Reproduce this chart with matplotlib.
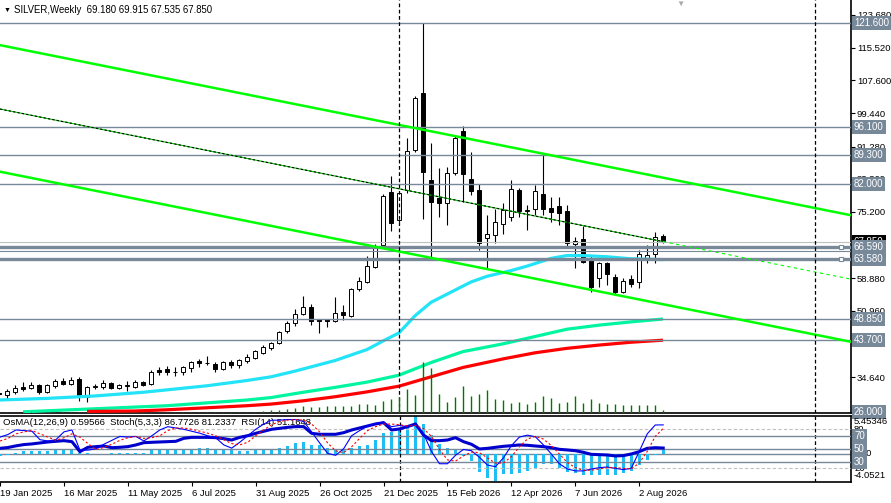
import numpy as np
import pandas as pd
import matplotlib
matplotlib.use("Agg")
import matplotlib.pyplot as plt
import matplotlib.transforms as mtransforms

plt.rcParams['font.family'] = ['Liberation Sans', 'DejaVu Sans']

# weekly bars, first one is 19 Jan 2025
weeks = pd.date_range("2025-01-19", periods=84, freq="7D")
bars = np.arange(-1, 83)

opens = [30.7, 30.3, 31.0, 32.2, 32.0, 32.6, 30.9, 32.4, 33.7, 32.9, 34.1, 29.7, 32.1, 32.3, 33.1, 31.9,
         32.5, 32.1, 33.4, 32.9, 36.3, 36.6, 35.9, 35.8, 36.8, 38.6, 38.2, 37.9, 36.6, 38.4, 37.6, 38.6,
         39.4, 40.6, 41.7, 42.9, 46.0, 47.9, 50.1, 51.9, 48.8, 48.8, 48.3, 50.6, 49.7, 56.2, 58.1, 61.8,
         67.1, 80.0, 73.2, 80.6, 90.4, 104.5, 83.1, 78.6, 77.3, 84.7, 95.2, 83.3, 80.6, 68.7, 69.5, 72.2,
         74.0, 80.6, 75.5, 75.9, 79.6, 76.3, 76.7, 75.4, 67.4, 68.6, 63.4, 58.9, 62.6, 59.2, 55.6, 58.7,
         57.9, 64.0, 64.8, 69.18]
highs = [30.9, 31.7, 32.6, 33.5, 33.5, 33.0, 32.9, 34.1, 34.3, 34.6, 34.6, 32.4, 33.0, 34.0, 33.5, 33.0,
         33.6, 34.0, 33.6, 36.3, 37.0, 37.4, 37.1, 37.4, 38.6, 39.2, 39.7, 38.3, 38.5, 38.8, 39.2, 40.2,
         41.3, 42.6, 43.3, 46.0, 48.5, 51.3, 54.6, 52.7, 49.0, 49.0, 54.4, 52.4, 56.6, 59.2, 64.4, 67.3,
         79.6, 84.0, 80.2, 93.5, 103.6, 121.6, 92.1, 86.1, 86.3, 94.0, 96.3, 90.0, 82.2, 74.5, 75.9, 77.5,
         83.1, 81.0, 76.9, 81.8, 89.6, 79.0, 79.0, 76.9, 69.1, 71.8, 64.5, 63.0, 63.0, 60.0, 59.0, 59.6,
         65.9, 67.1, 70.2, 69.915]
lows = [30.2, 29.3, 30.6, 31.1, 31.8, 30.5, 30.7, 31.9, 32.6, 32.6, 28.8, 28.6, 31.6, 31.8, 31.6, 31.7,
        31.2, 31.9, 32.5, 32.7, 35.2, 35.1, 34.8, 35.1, 36.0, 37.1, 37.7, 36.0, 36.3, 36.8, 36.8, 38.0,
        39.2, 40.2, 41.2, 42.7, 45.5, 47.2, 50.0, 47.4, 45.4, 47.0, 48.1, 48.7, 49.5, 55.8, 57.8, 61.4,
        66.8, 70.5, 72.8, 79.8, 89.9, 73.6, 63.8, 74.0, 72.0, 84.3, 77.7, 79.4, 65.9, 61.4, 67.5, 69.7,
        73.0, 74.0, 70.8, 74.5, 74.5, 72.8, 72.0, 66.3, 61.4, 62.6, 55.6, 56.8, 57.3, 55.0, 55.2, 56.7,
        56.5, 62.6, 62.6, 67.535]
closes = [30.4, 31.3, 32.0, 31.8, 32.6, 30.9, 32.6, 33.7, 32.9, 33.9, 30.2, 32.1, 32.5, 33.2, 31.9, 32.7,
          32.6, 33.5, 32.8, 35.8, 35.9, 35.8, 36.0, 37.0, 38.3, 38.0, 38.1, 36.6, 38.3, 37.6, 38.8, 39.6,
          41.1, 42.1, 42.9, 45.8, 48.0, 50.1, 51.9, 48.5, 48.4, 48.4, 50.3, 49.8, 56.2, 58.2, 61.9, 66.7,
          79.2, 72.6, 79.8, 90.2, 103.3, 85.1, 77.7, 77.3, 84.7, 93.5, 84.5, 80.4, 67.7, 69.7, 72.8, 75.7,
          80.9, 75.5, 75.8, 80.4, 75.9, 75.3, 75.0, 67.5, 68.1, 63.0, 56.8, 62.6, 59.9, 55.6, 58.2, 57.4,
          65.0, 64.6, 69.1, 67.85]
volumes = [50, 60, 50, 70, 60, 50, 60, 80, 60, 90, 70, 60, 50, 60, 50, 60, 70, 60, 80, 70, 60, 70, 80, 90,
           150, 150, 100, 150, 100, 150, 100, 150, 150, 200, 270,
           300, 370, 500, 700, 600, 600, 700, 700, 700, 700, 870, 870, 800, 1200, 1400, 1600,
           2370, 1770, 5100, 4500, 1870, 1100, 1600, 2670, 1670, 1870, 2270, 1370, 1270, 1000, 1070, 870,
           1070, 1670, 1500, 1000, 1070, 1670, 1000, 1370, 1000, 870, 870, 770, 770, 770, 770, 770, 270]

# moving averages (bar, price)
ma_fast_bars = [-1, 5, 11, 17, 20, 25, 30, 33, 36, 41, 45, 47, 49, 51, 53, 56, 58, 60, 63, 65, 68, 70, 72, 75, 78, 82]
ma_fast_vals = [29.0, 29.4, 30.0, 30.9, 31.5, 32.5, 33.8, 34.7, 36.1, 38.7, 41.4, 43.5, 45.5, 49.7, 53.0, 56.0,
                58.0, 59.4, 60.8, 61.9, 63.8, 64.5, 64.5, 64.2, 63.7, 63.5]
ma_mid_bars = [2, 8, 14, 20, 25, 30, 33, 37, 41, 45, 49, 53, 57, 62, 66, 70, 74, 78, 82]
ma_mid_vals = [26.1, 26.6, 27.1, 27.6, 28.3, 29.0, 29.6, 30.9, 32.1, 33.4, 35.1, 38.2, 40.9, 42.8, 44.6, 46.4,
               47.4, 48.2, 48.9]
ma_slow_bars = [10, 16, 20, 25, 30, 33, 37, 41, 45, 49, 53, 57, 62, 66, 70, 74, 78, 82]
ma_slow_vals = [26.2, 26.3, 26.6, 27.1, 27.6, 28.0, 28.8, 29.8, 31.0, 32.4, 34.7, 37.0, 39.1, 40.6, 41.7, 42.5,
                43.2, 43.7]

# regression channel: price at first and last visible bar position
chan_bars = [-0.875, 105.5]
chan_upper = [116.2, 74.4]
chan_mid = [100.5, 58.7]
chan_lower = [85.1, 43.3]
last_bar = 82

levels = [121.6, 96.1, 89.3, 82.0, 66.59, 63.58, 48.85, 43.7]
thick_levels = [66.59, 63.58]
extra_level = 65.5
bid = 67.85
price_ticks = [123.68, 115.52, 107.6, 99.44, 91.28, 83.36, 75.2, 67.04, 58.88, 50.96, 42.8, 34.64]

osma = [-0.3, -0.25, 0.15, 0.34, 0.39, 0.34, 0.34, 0.49, 0.49, 0.49,
        0.1, 0.05, -0.05, 0.0, 0.05, 0.08, 0.1, 0.1, 0.12,
        0.58, 0.63, 0.63, 0.63, 0.63, 0.73, 0.83, 0.83, 0.49, 0.49, 0.49, 0.34, 0.39, 0.58, 0.58, 0.58,
        0.83, 1.07, 1.56, 1.71, 1.32, 1.22, 0.83, 0.73, 0.63, 0.83, 1.07, 1.32, 1.95, 3.07, 3.17, 3.66,
        4.0, 5.45346, 4.29, 2.68, 1.37, 0.83,
        0.7, -0.4, -1.07, -2.68, -3.6, -4.0521, -3.0, -3.0, -2.8, -2.5, -2.05, -1.56, -1.56, -2.05, -2.7,
        -2.8, -3.17, -3.17, -3.17, -3.17, -3.17, -2.9, -2.5, -1.7, -0.97, -0.2, 0.59566]
stoch_main = [68, 72, 79, 78, 77, 64, 62, 64, 76, 79, 48, 48, 50, 57, 63, 69, 68, 69, 62, 70, 79, 84, 82, 80,
              77, 74, 70, 67, 56, 51, 60, 70, 80, 88, 94, 94, 95, 95, 92, 76, 59, 43, 40, 50, 70, 78, 85, 89,
              91, 84, 86, 84, 87, 73, 46, 27, 27, 40, 49, 47, 37, 25, 22.5, 36, 55, 68, 71, 68.5, 56, 42, 27,
              19, 16, 16, 19, 21, 22, 20, 18, 20, 46, 73, 86.6, 86.7726]
stoch_signal = [62, 66, 73, 76, 78, 73, 68, 63, 67, 73, 68, 58, 49, 52, 57, 63, 67, 69, 66, 67, 70, 78, 82, 82,
                80, 77, 74, 70, 64, 58, 56, 60, 70, 79, 87, 92, 94, 95, 94, 88, 76, 59, 47, 44, 53, 66, 78, 84,
                88, 88, 87, 85, 86, 81, 69, 49, 33, 31, 39, 45, 44, 36, 28, 28, 38, 53, 65, 69, 65, 55, 42, 29,
                21, 17, 17, 19, 21, 21, 20, 19, 28, 46, 69, 81.2337]
rsi = [50.7, 52, 54.5, 56.5, 57.5, 59, 60.5, 61.5, 62.5, 61, 45.6, 52.3, 53.3, 54.3, 51.7, 52.3, 53.3, 55.9,
       59.4, 60, 60.5, 61, 61.5, 66.1, 67.6, 67.6, 67.6, 67.1, 65.6, 63.5, 67.6, 70.2, 73.8, 76.9, 80, 81.5,
       83, 84.1, 84.1, 73.8, 72.3, 72.3, 72.3, 74.8, 78.9, 82, 85.1, 88.2, 90.2, 78.9, 80.5, 84.1, 88.2, 71.2,
       62.5, 62.5, 63.5, 67.1, 61, 56.9, 49.7, 50.7, 52.3, 53.8, 54.8, 55.9, 55.4, 54.3, 53.3, 51.7, 49.2,
       48.2, 47.1, 44.6, 41.5, 41, 40.5, 39, 39.5, 42, 45.6, 50.7, 51.7, 51.1648]

GRAY = '#778899'
FS_TICK = 6.8
FS_BOX = 7.0
W, H = 891, 503
fig = plt.figure(figsize=(W / 100, H / 100), dpi=100)
fig.patch.set_facecolor('white')


def px_axes(left, top, right, bottom):
    return fig.add_axes([left / W, 1 - bottom / H, (right - left) / W, (bottom - top) / H])


ax = px_axes(0, 0, 851, 413)
axi = px_axes(0, 415.5, 851, 481.7)
xlim = (-0.875, 105.5)

# ---- main chart ----
ax.set_xlim(xlim)
ax.set_ylim(25.81, 127.29)
o = np.array(opens); c = np.array(closes)
up = c >= o
ax.vlines(bars, lows, highs, color='black', lw=0.8, zorder=2)
ax.bar(bars, np.maximum(np.abs(c - o), 0.08), bottom=np.minimum(o, c), width=0.62,
       color=np.where(up, 'white', 'black'), edgecolor='black', linewidth=0.7, zorder=2.5)

ax.plot(ma_fast_bars, ma_fast_vals, color='#22E3F7', lw=2.3, zorder=3, solid_capstyle='butt')
ax.plot(ma_mid_bars, ma_mid_vals, color='#00F5A0', lw=2.3, zorder=3, solid_capstyle='butt')
ax.plot(ma_slow_bars, ma_slow_vals, color='#FF0000', lw=2.3, zorder=3, solid_capstyle='butt')

for lv in levels:
    ax.axhline(lv, color=GRAY, lw=2.4 if lv in thick_levels else 1.0, zorder=4)
ax.axhline(extra_level, color=GRAY, lw=0.8, zorder=4)
ax.axhline(bid, color='#C0C0C0', lw=0.8, zorder=4)
ax.plot([104.3, 104.3], thick_levels, ls='none', marker='s', ms=3.2, mfc='white', mec=GRAY, mew=0.8,
        zorder=5)

ax.plot(chan_bars, chan_upper, color='#00FF00', lw=1.8, zorder=4)
ax.plot(chan_bars, chan_lower, color='#00FF00', lw=1.8, zorder=4)
mid_at_last = np.interp(last_bar, chan_bars, chan_mid)
ax.plot([chan_bars[0], last_bar], [chan_mid[0], mid_at_last], color='#00C000', lw=0.8, zorder=4)
ax.plot([chan_bars[0], last_bar], [chan_mid[0], mid_at_last], color='black', lw=0.8,
        dashes=(2, 2), zorder=4)
ax.plot([last_bar, chan_bars[1]], [mid_at_last, chan_mid[1]], color='#00FF00', lw=0.8,
        dashes=(3, 3), zorder=4)

axv = ax.twinx()
axv.set_xlim(xlim)
axv.set_ylim(0, 41300)
axv.vlines(bars, 0, volumes, color='#007800', lw=1.0)
axv.set_axis_off()

ax.yaxis.tick_right()
ax.set_yticks(price_ticks)
ax.set_yticklabels([f"{t:.3f}" for t in price_ticks])
ax.tick_params(axis='y', length=3, width=0.8, labelsize=FS_TICK, pad=1.2)
ax.set_xticks([])
for s in ['top', 'left']:
    ax.spines[s].set_visible(False)
for s in ['right', 'bottom']:
    ax.spines[s].set_linewidth(1.2)

tr = mtransforms.blended_transform_factory(ax.transAxes, ax.transData)


def box(axis, trans, y, s, fc=GRAY, tc='white'):
    axis.text(1 + 3 / 851, y, s, transform=trans, ha='left', va='center', fontsize=FS_BOX, color=tc,
              bbox=dict(boxstyle='square,pad=0.2', fc=fc, ec='none'), clip_on=False, zorder=20)


box(ax, tr, bid, f"{bid:.3f}", fc='black')
for lv in levels + [26.0]:
    box(ax, tr, lv, f"{lv:.3f}")

for xb in [49, 101]:
    ax.axvline(xb, color='black', lw=0.9, dashes=(3, 2), zorder=6)
    axi.axvline(xb, color='black', lw=0.9, dashes=(3, 2), zorder=6)

# ---- indicator window ----
axi.set_xlim(xlim)
axi.set_ylim(-4.109, 5.567)
axi.bar(bars, osma, width=0.38, color='#1EBEF5', zorder=2)
axi.axhline(0, color=GRAY, lw=1.0, zorder=1)
axs = axi.twinx()
axs.set_xlim(xlim)
axs.set_ylim(-0.6, 101.2)
for lv in [80, 20]:
    axs.axhline(lv, color='#C0C0C0', lw=0.8, dashes=(3, 2), zorder=1)
for lv in [70, 50, 30]:
    axs.axhline(lv, color=GRAY, lw=1.0, zorder=1)
axs.plot(bars, rsi, color='#0000CD', lw=2.2, zorder=3)
axs.plot(bars, stoch_main, color='#0000FF', lw=0.8, zorder=4)
axs.plot(bars, stoch_signal, color='#FF0000', lw=0.8, dashes=(2, 2), zorder=4)
axs.set_axis_off()

tri = mtransforms.blended_transform_factory(axs.transAxes, axs.transData)
for v, s in [(91.5, "5.45346"), (80, "80"), (42.6, "0.00"), (20, "20"), (9.7, "-4.0521")]:
    axs.text(1 + 3 / 851, v, s, transform=tri, ha='left', va='center', fontsize=FS_TICK, clip_on=False,
             zorder=15)
for lv in [70, 50, 30]:
    box(axs, tri, lv, str(lv))

axi.set_yticks([])
axi.spines['left'].set_visible(False)
for s in ['right', 'top', 'bottom']:
    axi.spines[s].set_linewidth(1.2)
lab_bars = list(range(-1, 83, 8))
axi.set_xticks(lab_bars)
axi.set_xticklabels([f"{weeks[b + 1].day} {weeks[b + 1].strftime('%b %Y')}" for b in lab_bars])
axi.tick_params(axis='x', length=3, width=0.8, labelsize=6.8, pad=2)
for lab in axi.get_xticklabels():
    lab.set_ha('left')

axi.text(3 / 851, 0.89, "OsMA(12,26,9) 0.59566  Stoch(5,3,3) 86.7726 81.2337  RSI(14) 51.1648",
         transform=axi.transAxes, fontsize=6.8, va='center', ha='left', zorder=30)

# header
fig.text(4 / W, 1 - 10 / H, "\u25bc", fontsize=5, va='center', ha='left')
fig.text(14 / W, 1 - 10 / H, "SILVER,Weekly  69.180 69.915 67.535 67.850", fontsize=6.9,
         va='center', ha='left')
fig.text(680 / W, 1 - 4 / H, "\u25bc", fontsize=6, color='#A9A9A9', va='center', ha='center')

fig.savefig("out.png", dpi=100)
